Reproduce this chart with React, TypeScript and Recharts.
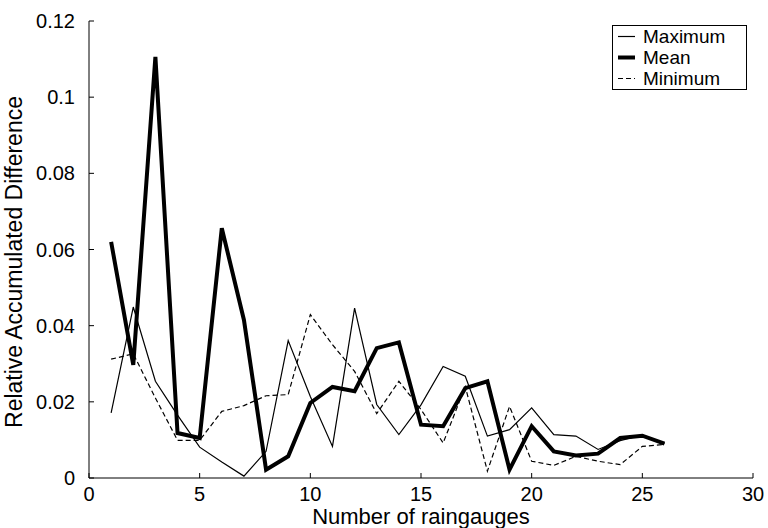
import React from 'react';
import {
  LineChart,
  Line,
  XAxis,
  YAxis,
  Legend
} from 'recharts';

const gauges = [1, 2, 3, 4, 5, 6, 7, 8, 9, 10, 11, 12, 13, 14, 15, 16, 17, 18, 19, 20, 21, 22, 23, 24, 25, 26];
const maximum = [0.0171, 0.0449, 0.0254, 0.0165, 0.0081, 0.0042, 0.0005, 0.007, 0.0361, 0.0214, 0.0083, 0.0446, 0.0193, 0.0114, 0.0192, 0.0293, 0.0267, 0.011, 0.0127, 0.0184, 0.0114, 0.011, 0.0075, 0.0098, 0.0113, 0.009];
const mean = [0.062, 0.0297, 0.1106, 0.0118, 0.0105, 0.0656, 0.0415, 0.0022, 0.0057, 0.0197, 0.0239, 0.0228, 0.0341, 0.0356, 0.014, 0.0136, 0.0236, 0.0254, 0.0022, 0.0136, 0.007, 0.0059, 0.0064, 0.0105, 0.0111, 0.009];
const minimum = [0.0312, 0.0326, 0.021, 0.0099, 0.0099, 0.0175, 0.019, 0.0216, 0.0219, 0.0429, 0.035, 0.028, 0.0169, 0.0254, 0.018, 0.0092, 0.024, 0.0018, 0.0188, 0.0044, 0.0033, 0.0057, 0.0044, 0.0035, 0.0083, 0.0088];

const xTicks = [0, 5, 10, 15, 20, 25, 30];
const yTicks = [0, 0.02, 0.04, 0.06, 0.08, 0.1, 0.12];

const data = gauges.map((n, i) => ({
  n,
  Maximum: maximum[i],
  Mean: mean[i],
  Minimum: minimum[i]
}));

const FONT = '"Liberation Sans", Arial, Helvetica, sans-serif';

const legendItems = [
  { name: 'Maximum', width: 1.2, dash: undefined },
  { name: 'Mean', width: 4, dash: undefined },
  { name: 'Minimum', width: 1.2, dash: '5 3' }
];

// matlab-style boxed legend
const LegendBox = () => (
  <div
    style={{
      width: 133,
      height: 63,
      border: '1px solid #000',
      background: '#fff',
      fontFamily: FONT,
      fontSize: 19,
      color: '#000'
    }}
  >
    {legendItems.map(item => (
      <div key={item.name} style={{ display: 'flex', alignItems: 'center', height: 21 }}>
        <svg width={30} height={21} style={{ flex: 'none' }}>
          <line x1={5} x2={22} y1={10.5} y2={10.5} stroke="#000" strokeWidth={item.width} strokeDasharray={item.dash} />
        </svg>
        <span style={{ lineHeight: '21px' }}>{item.name}</span>
      </div>
    ))}
  </div>
);

const YLabel = (props: any) => {
  const { viewBox } = props;
  const x = viewBox.x - 7;
  const y = 262;
  return (
    <text
      x={x}
      y={y}
      transform={`rotate(-90, ${x}, ${y})`}
      textAnchor="middle"
      fontFamily={FONT}
      fontSize={23}
      fill="#000"
    >
      Relative Accumulated Difference
    </text>
  );
};

const XLabel = (props: any) => {
  const { viewBox } = props;
  return (
    <text
      x={viewBox.x + viewBox.width / 2}
      y={viewBox.y + 46}
      textAnchor="middle"
      fontFamily={FONT}
      fontSize={22}
      fill="#000"
    >
      Number of raingauges
    </text>
  );
};

const tickStyle = { fontFamily: FONT, fontSize: 20, fill: '#000' };

export default function App() {
  return (
    <div style={{ width: 768, height: 528, background: '#fff' }}>
      <style>{'body { margin: 0; }'}</style>
      <LineChart width={768} height={528} data={data} margin={{ top: 21, right: 15, bottom: 0, left: 29 }}>
        <XAxis
          dataKey="n"
          type="number"
          domain={[0, 30]}
          ticks={xTicks}
          interval={0}
          tickSize={-5}
          tickMargin={14}
          height={50}
          stroke="#000"
          tick={tickStyle}
          label={<XLabel />}
        />
        <XAxis
          xAxisId="top"
          orientation="top"
          dataKey="n"
          type="number"
          domain={[0, 30]}
          ticks={xTicks}
          interval={0}
          tickSize={-5}
          height={0}
          stroke="#000"
          tickFormatter={() => ''}
        />
        <YAxis
          type="number"
          domain={[0, 0.12]}
          ticks={yTicks}
          interval={0}
          tickSize={-5}
          tickMargin={19}
          width={60}
          stroke="#000"
          tick={tickStyle}
          label={<YLabel />}
        />
        <YAxis
          yAxisId="right"
          orientation="right"
          type="number"
          domain={[0, 0.12]}
          ticks={yTicks}
          interval={0}
          tickSize={-5}
          width={0}
          stroke="#000"
          tickFormatter={() => ''}
        />
        <Legend
          layout="vertical"
          align="center"
          verticalAlign="middle"
          wrapperStyle={{ top: 25, left: 612, width: 135 }}
          content={<LegendBox />}
        />
        <Line type="linear" dataKey="Maximum" stroke="#000" strokeWidth={1.2} dot={false} isAnimationActive={false} />
        <Line type="linear" dataKey="Mean" stroke="#000" strokeWidth={4} dot={false} isAnimationActive={false} />
        <Line type="linear" dataKey="Minimum" stroke="#000" strokeWidth={1.2} strokeDasharray="5 3" dot={false} isAnimationActive={false} />
      </LineChart>
    </div>
  );
}
